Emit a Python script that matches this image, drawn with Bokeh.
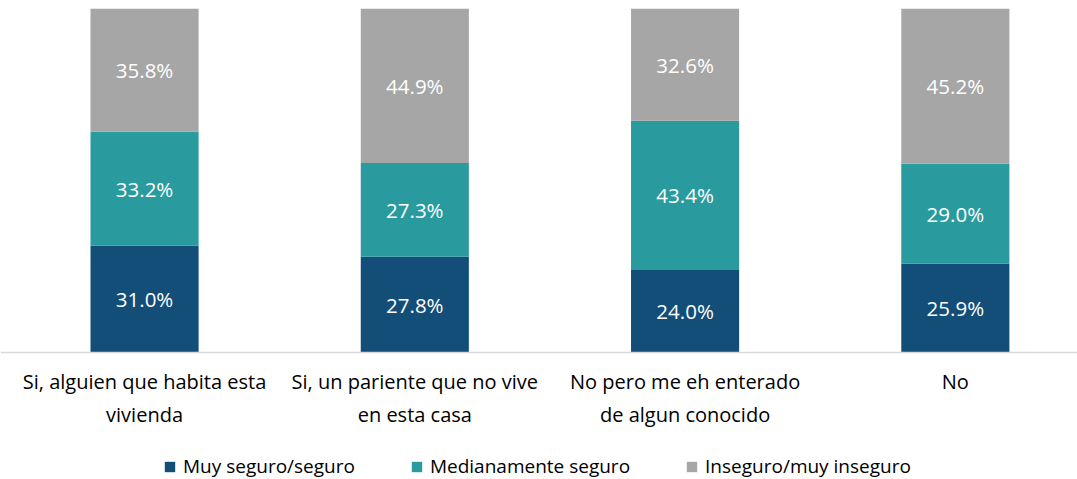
from bokeh.plotting import figure
from bokeh.models import ColumnDataSource, Range1d, FixedTicker, Legend, LegendItem
from bokeh.core.properties import value
from bokeh.embed import file_html
from bokeh.resources import INLINE

categories = [
    "Si, alguien que habita esta\nvivienda",
    "Si, un pariente que no vive\nen esta casa",
    "No pero me eh enterado\nde algun conocido",
    "No",
]
muy_seguro = [31.0, 27.8, 24.0, 25.9]
medianamente = [33.2, 27.3, 43.4, 29.0]
inseguro = [35.8, 44.9, 32.6, 45.2]
series_names = ["Muy seguro/seguro", "Medianamente seguro", "Inseguro/muy inseguro"]
colors = ["#124E78", "#299B9F", "#A6A6A6"]

FONT = "Open Sans"
x = list(range(len(categories)))
series = [muy_seguro, medianamente, inseguro]
keys = ["s0", "s1", "s2"]

src = ColumnDataSource(dict(x=x, s0=muy_seguro, s1=medianamente, s2=inseguro))

# frame covers the whole picture; value 0 sits 127px above the bottom edge
p = figure(frame_width=1077, frame_height=471, output_backend="svg", toolbar_location=None,
           x_range=Range1d(-0.533, 3.452), y_range=Range1d(-36.92, 100),
           min_border_left=0, min_border_right=0, min_border_top=8, min_border_bottom=0)
p.outline_line_color = None
p.grid.grid_line_color = None
p.yaxis.visible = False

renderers = p.vbar_stack(keys, x="x", width=0.4, color=colors, source=src, line_color=None)

# data labels
lx, ly, lt = [], [], []
for i in range(len(categories)):
    base = 0.0
    for s in series:
        v = s[i]
        lx.append(x[i])
        ly.append(base + v / 2)
        lt.append(f"{v:.1f}%")
        base += v
lsrc = ColumnDataSource(dict(x=lx, y=ly, t=lt))
p.text(x="x", y="y", text="t", source=lsrc, text_color="white", text_align="center",
       text_baseline="middle", text_font=value(FONT), text_font_size="20.5px")

ax = p.xaxis[0]
ax.fixed_location = 0
ax.ticker = FixedTicker(ticks=x)
ax.major_label_overrides = {i: c for i, c in zip(x, categories)}
ax.major_tick_line_color = None
ax.minor_tick_line_color = None
ax.axis_line_color = "#D9D9D9"
ax.axis_line_width = 1.5
ax.major_label_text_font = FONT
ax.major_label_text_font_size = "20px"
ax.major_label_text_color = "#000000"
ax.major_label_standoff = 10

legend = Legend(items=[LegendItem(label=n, renderers=[r]) for n, r in zip(series_names, renderers)],
                orientation="horizontal", location=(163, 0),
                label_text_font=FONT, label_text_font_size="19px", label_text_color="#000000",
                glyph_width=13, glyph_height=13, label_standoff=7, spacing=55,
                border_line_color=None, background_fill_alpha=0, margin=0, padding=0)
p.add_layout(legend, "center")

open("out.html", "w").write(file_html(p, INLINE))
